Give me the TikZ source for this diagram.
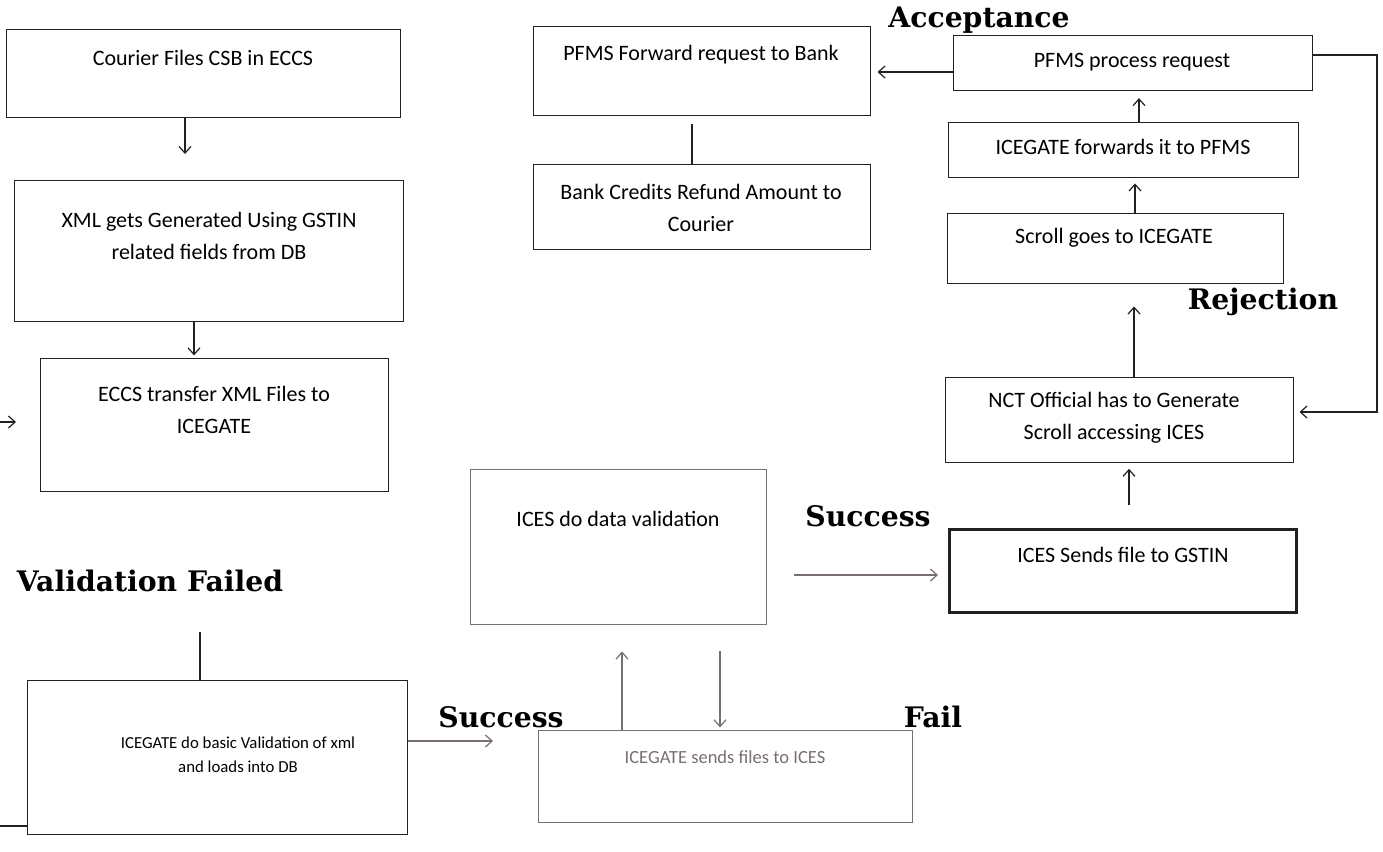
\documentclass[tikz,border=0pt]{standalone}
\usepackage{fontspec}
\setmainfont{Carlito}
\newfontfamily\labelfont{DejaVu Serif}
\usetikzlibrary{positioning, calc, arrows.meta}
\definecolor{inkdark}{RGB}{35,32,32}
\definecolor{inkfade}{RGB}{120,110,112}

\begin{document}
\begin{tikzpicture}[x=0.75pt,y=0.75pt,yscale=-1,xscale=1,
  box/.style={draw=inkdark, line width=1.1pt, rectangle, inner sep=0pt, anchor=north west},
  fadebox/.style={box, draw=inkfade},
  boxtxt/.style={inner sep=0.75pt, align=center, font=\fontsize{16.5}{24}\selectfont},
  steplabel/.style={inner sep=0.75pt, font=\labelfont\bfseries\fontsize{21.2}{24}\selectfont},
  arr/.style={draw=inkdark, line width=0.9pt, -{Straight Barb[length=5pt,width=9pt]}},
  fadearr/.style={arr, draw=inkfade},
  link/.style={draw=inkdark, line width=0.9pt}]
%set diagram left start at 0, and has height of 851
\useasboundingbox (0,0) rectangle (1383,851);

%Shape: Rectangle [id:courier]
\node [box, minimum width=295.5pt, minimum height=66pt] (courier) at (6,29) {};
%Shape: Rectangle [id:xmlgen]
\node [box, minimum width=291.75pt, minimum height=105.75pt] (xmlgen) at (14,180) {};
%Shape: Rectangle [id:eccs]
\node [box, minimum width=261pt, minimum height=99.75pt] (eccs) at (40,358) {};
%Shape: Rectangle [id:basicval]
\node [box, minimum width=285pt, minimum height=115.5pt] (basicval) at (27,680) {};
%Shape: Rectangle [id:sendsices]
\node [fadebox, minimum width=280.5pt, minimum height=69pt] (sendsices) at (538,730) {};
%Shape: Rectangle [id:dataval]
\node [fadebox, minimum width=222pt, minimum height=116.25pt] (dataval) at (470,469) {};
%Shape: Rectangle [id:sendsgstin]
\node [box, line width=2pt, minimum width=260.25pt, minimum height=62.25pt] (sendsgstin) at (948,528) {};
%Shape: Rectangle [id:nct]
\node [box, minimum width=261pt, minimum height=63.75pt] (nct) at (945,377) {};
%Shape: Rectangle [id:scroll]
\node [box, minimum width=252pt, minimum height=52.5pt] (scroll) at (947,213) {};
%Shape: Rectangle [id:icefwd]
\node [box, minimum width=262.5pt, minimum height=41.25pt] (icefwd) at (948,122) {};
%Shape: Rectangle [id:pfmsproc]
\node [box, minimum width=269.25pt, minimum height=41.25pt] (pfmsproc) at (953,35) {};
%Shape: Rectangle [id:pfmsfwd]
\node [box, minimum width=252.75pt, minimum height=66.75pt] (pfmsfwd) at (533,26) {};
%Shape: Rectangle [id:bankcr]
\node [box, minimum width=252.75pt, minimum height=63.75pt] (bankcr) at (533,164) {};

%Straight Lines [id:courier-xmlgen]
\draw [arr, shorten >=19.5pt] (185,0 |- courier.south) -- (185,0 |- xmlgen.north);
%Straight Lines [id:xmlgen-eccs]
\draw [arr, shorten >=2pt] (194,0 |- xmlgen.south) -- (194,0 |- eccs.north);
%Straight Lines [id:loop-in]
\coordinate (loop-in) at (0,422);
\draw [arr, shorten >=18pt] (loop-in) -- (eccs.west |- loop-in);
%Straight Lines [id:loop-out]
\coordinate (loop-out) at (0,826);
\draw [link] (basicval.west |- loop-out) -- (loop-out);
%Straight Lines [id:valfail]
\coordinate (valfail-end) at (200,632);
\draw [link] (valfail-end |- basicval.north) -- (valfail-end);
%Straight Lines [id:basicval-sendsices]
\draw [fadearr, shorten >=33.75pt] (basicval.east |- 0,741) -- (sendsices.west |- 0,741);
%Straight Lines [id:sendsices-dataval]
\draw [fadearr, shorten >=19.5pt] (622,0 |- sendsices.north) -- (622,0 |- dataval.south);
%Straight Lines [id:dataval-sendsices]
\draw [fadearr, shorten <=19.5pt, shorten >=2pt] (720,0 |- dataval.south) -- (720,0 |- sendsices.north);
%Straight Lines [id:dataval-sendsgstin]
\draw [fadearr, shorten <=20pt, shorten >=7.5pt] (dataval.east |- 0,575) -- (sendsgstin.west |- 0,575);
%Straight Lines [id:sendsgstin-nct]
\draw [arr, shorten <=17pt, shorten >=4pt] (1129,0 |- sendsgstin.north) -- (1129,0 |- nct.south);
%Straight Lines [id:nct-scroll]
\draw [arr, shorten >=16.5pt] (1134,0 |- nct.north) -- (1134,0 |- scroll.south);
%Straight Lines [id:scroll-icefwd]
\draw [arr, shorten >=3.75pt] (1135,0 |- scroll.north) -- (1135,0 |- icefwd.south);
%Straight Lines [id:icefwd-pfmsproc]
\draw [arr, shorten >=5pt] (1139,0 |- icefwd.north) -- (1139,0 |- pfmsproc.south);
%Straight Lines [id:pfmsproc-pfmsfwd]
\draw [arr, shorten >=4.5pt] (pfmsproc.west |- 0,72) -- (pfmsfwd.east |- 0,72);
%Straight Lines [id:pfmsfwd-bankcr]
\draw [link, shorten <=6pt] (692,0 |- pfmsfwd.south) -- (692,0 |- bankcr.north);
%Straight Lines [id:rejection]
\coordinate (rej-turn) at (1377,55);
\draw [arr, shorten >=3.75pt] (pfmsproc.east |- rej-turn) -- (rej-turn) |- (nct.east |- 0,412);

% Text Node
\node [boxtxt] (courier-txt) at (203,58) {Courier Files CSB in ECCS};
% Text Node
\node [boxtxt] (xmlgen-txt) at (209,236) {XML gets Generated Using GSTIN\\related fields from DB};
% Text Node
\node [boxtxt] (eccs-txt) at (214,410) {ECCS transfer XML Files to\\ICEGATE};
% Text Node
\node [boxtxt, font=\fontsize{12.6}{18}\selectfont] (basicval-txt) at (238,755) {ICEGATE do basic Validation of xml\\and loads into DB};
% Text Node
\node [boxtxt, text=inkfade, font=\fontsize{13.9}{18}\selectfont] (sendsices-txt) at (725,757) {ICEGATE sends files to ICES};
% Text Node
\node [boxtxt] (dataval-txt) at (618,519) {ICES do data validation};
% Text Node
\node [boxtxt] (sendsgstin-txt) at (1123,555) {ICES Sends file to GSTIN};
% Text Node
\node [boxtxt] (nct-txt) at (1114,418) {NCT Official has to Generate\\Scroll accessing ICES};
% Text Node
\node [boxtxt] (scroll-txt) at (1114,238) {Scroll goes to ICEGATE};
% Text Node
\node [boxtxt] (icefwd-txt) at (1123,147) {ICEGATE forwards it to PFMS};
% Text Node
\node [boxtxt] (pfmsproc-txt) at (1132,62) {PFMS process request};
% Text Node
\node [boxtxt] (pfmsfwd-txt) at (701,55) {PFMS Forward request to Bank};
% Text Node
\node [boxtxt] (bankcr-txt) at (701,208) {Bank Credits Refund Amount to\\Courier};

% Text Node
\node [steplabel] (acc-lbl) at (979,20) {Acceptance};
% Text Node
\node [steplabel] (rej-lbl) at (1263,302) {Rejection};
% Text Node
\node [steplabel] (succ-mid-lbl) at (868,516) {Success};
% Text Node
\node [steplabel] (valfail-lbl) at (150,581) {Validation Failed};
% Text Node
\node [steplabel] (succ-bot-lbl) at (501,717) {Success};
% Text Node
\node [steplabel] (fail-lbl) at (933,717) {Fail};

\end{tikzpicture}
\end{document}
